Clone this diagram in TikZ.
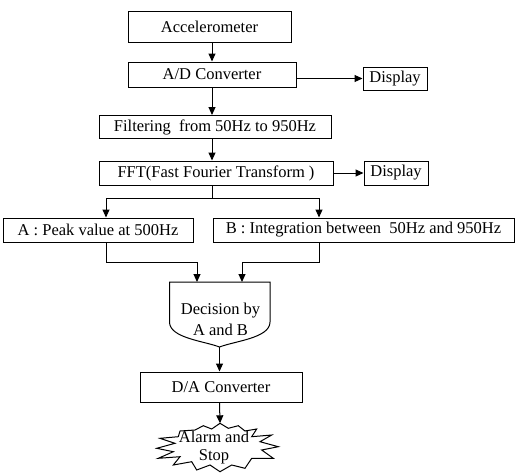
\documentclass[tikz,border=0pt]{standalone}
\usepackage{fontspec}
\setmainfont{Liberation Serif}
\usetikzlibrary{arrows.meta,calc}
\begin{document}
\begin{tikzpicture}[x=1pt,y=-1pt,
  every node/.style={font=\fontsize{16.5}{20}\selectfont},
  box/.style={draw,line width=1pt,minimum height=24pt,inner sep=0pt,anchor=center},
  arr/.style={line width=1pt,-{Triangle[length=8pt,width=7pt]}},
  ln/.style={line width=1pt}]
\useasboundingbox (0,0) rectangle (516,474);
% boxes
\node[box,minimum width=163pt,minimum height=31pt] (accel) at (209.5,26.5) {Accelerometer};
\node[box,minimum width=168pt,minimum height=25pt] (ad) at (212,74.5) {A/D Converter};
\node[box,minimum width=64pt,minimum height=23pt] (disp1) at (395,78.5) {Display};
\node[box,minimum width=232pt,minimum height=23pt] (filt) at (215,127) {Filtering\ \ from 50Hz to 950Hz};
\node[box,minimum width=234pt] (fft) at (216,173) {FFT(Fast Fourier Transform )};
\node[box,minimum width=64pt] (disp2) at (396,173) {Display};
\node[box,minimum width=190pt] (A) at (98,230) {A : Peak value at 500Hz};
\node[box,minimum width=301pt] (B) at (363.5,230) {B : Integration between\ \ 50Hz and 950Hz};
% decision
\coordinate (dectop) at (219.5,282);
\coordinate (decbot) at (219.5,347);
\draw[ln] (169.5,282) -- (169.5,322) .. controls (169.5,338) and (204,341) .. (decbot)
  .. controls (235,341) and (270,338) .. (270,322) -- (270,282) -- cycle;
\node[align=center,font=\fontsize{16.5}{21}\selectfont] (dec) at (220.5,319) {Decision by\\A and B};
\node[box,minimum width=162pt,minimum height=30pt] (da) at (221,387) {D/A Converter};
% alarm star
\coordinate (startop) at (220,423.3);
\draw[ln] (156.7,448.3) -- (175,443.3) -- (160,438.3) -- (178.3,436.7) -- (180,431)
  -- (195,430) -- (203.3,425.7) -- (211.7,429) -- (startop) -- (228.3,428.3)
  -- (238.3,425.7) -- (245,431) -- (256.7,429) -- (251.7,436.7) -- (271.7,435)
  -- (260,441.7) -- (278.3,446.7) -- (261.7,450) -- (273.3,458.3) -- (251.7,458.3)
  -- (245,468.3) -- (231.7,465) -- (220,471.7) -- (210,465) -- (196.7,470)
  -- (191.7,461.7) -- (173.3,465) -- (180,456.7) -- (158.3,458.3) -- (173.3,451.7) -- cycle;
\node[align=center,font=\fontsize{16.5}{18}\selectfont] (alarm) at (214,448) {Alarm and\\Stop};
% connectors
\draw[arr] (ad.north |- accel.south) -- (ad.north);
\draw[arr] (ad.south) -- (ad.south |- filt.north);
\draw[arr] (ad.south |- filt.south) -- (ad.south |- fft.north);
\draw[arr] (ad.east |- disp1.west) -- (disp1.west);
\draw[arr] (fft.east) -- (fft.east -| disp2.west);
\coordinate (split) at (212,198);
\coordinate (aX) at (106,0);
\coordinate (bX) at (319,0);
\draw[ln] (split |- fft.south) -- (split);
\draw[arr] (split) -| (aX |- A.north);
\draw[arr] (split) -| (bX |- B.north);
\coordinate (mergeY) at (0,262);
\coordinate (dL) at (197,0);
\coordinate (dR) at (242,0);
\draw[arr] (aX |- A.south) |- (dL |- mergeY) -- (dL |- dectop);
\draw[arr] (bX |- B.south) |- (dR |- mergeY) -- (dR |- dectop);
\draw[arr] (decbot) -- (decbot |- da.north);
\draw[arr] (decbot |- da.south) -- (startop);
\end{tikzpicture}
\end{document}
